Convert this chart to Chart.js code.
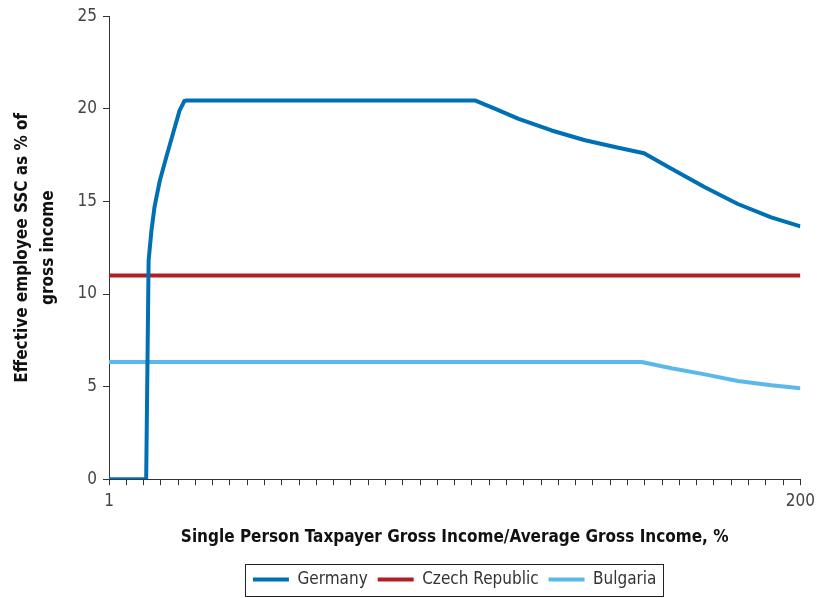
<!DOCTYPE html>
<html><head><meta charset="utf-8">
<script src="https://cdn.jsdelivr.net/npm/chart.js@4/dist/chart.umd.min.js"></script>
<style>html,body{margin:0;padding:0;background:#fff}#wrap{width:821px;height:598px}</style>
</head><body><div id="wrap"><canvas id="c" width="821" height="598"></canvas></div>
<script>
const seriesNames = ['Germany', 'Czech Republic', 'Bulgaria'];
const germanyX = [1, 11.7, 12.4, 13.2, 14.1, 15.6, 17.5, 19.4, 21.3, 22.7, 23.4, 106.3, 112.2, 118.9, 128.4, 138.0, 147.6, 155.0, 162.9, 172.5, 182.0, 191.6, 200];
const germanyY = [0, 0, 11.8, 13.4, 14.7, 16.1, 17.4, 18.65, 19.9, 20.42, 20.45, 20.45, 20.0, 19.46, 18.83, 18.3, 17.9, 17.6, 16.76, 15.76, 14.86, 14.14, 13.65];
const czechX = [1, 200];
const czechY = [11, 11];
const bulgariaX = [1, 154.3, 162.9, 172.5, 182.0, 191.6, 200];
const bulgariaY = [6.33, 6.33, 5.99, 5.66, 5.30, 5.07, 4.91];
const xTickLabels = ['1', '200'];
const yTicks = [0, 5, 10, 15, 20, 25];
const xMin = 1, xMax = 200, xTickIntervals = 40;

const FONT = "'Liberation Sans Narrow', 'DejaVu Sans Condensed', 'Roboto', sans-serif";
const colors = ['#0070B4', '#B51C24', '#5BB9EA'];
const toPts = (xs, ys) => xs.map((x, i) => ({x, y: ys[i]}));

const legendBox = {
  id: 'legendBox',
  afterDraw(chart) {
    const l = chart.legend; const ctx = chart.ctx;
    const hb = l.legendHitBoxes;
    if (!hb || !hb.length) return;
    const first = hb[0], last = hb[hb.length - 1];
    const x0 = first.left - 8, x1 = last.left + last.width + 6;
    const cy = first.top + first.height / 2;
    ctx.save(); ctx.strokeStyle = '#222'; ctx.lineWidth = 1;
    ctx.strokeRect(Math.round(x0) + 0.5, Math.round(cy - 16) + 0.5, Math.round(x1 - x0), 32);
    ctx.restore();
  }
};

new Chart(document.getElementById('c'), {
  type: 'line',
  data: {
    datasets: [
      {label: seriesNames[0], data: toPts(germanyX, germanyY), borderColor: colors[0], backgroundColor: colors[0]},
      {label: seriesNames[1], data: toPts(czechX, czechY), borderColor: colors[1], backgroundColor: colors[1]},
      {label: seriesNames[2], data: toPts(bulgariaX, bulgariaY), borderColor: colors[2], backgroundColor: colors[2]}
    ].map(d => Object.assign(d, {borderWidth: 4, pointRadius: 0, tension: 0, fill: false, borderJoinStyle: 'round'}))
  },
  options: {
    responsive: false, animation: false, devicePixelRatio: 1,
    layout: {padding: {left: 0, right: 15, top: 8, bottom: 0}},
    plugins: {
      tooltip: {enabled: false},
      legend: {
        position: 'bottom', fullSize: false,
        labels: {
          font: {family: FONT, size: 17}, color: '#333',
          boxWidth: 36, boxHeight: 4, padding: 10,
          generateLabels(chart) {
            const items = Chart.defaults.plugins.legend.labels.generateLabels(chart);
            items.forEach(i => { i.lineWidth = 0; i.strokeStyle = 'transparent'; });
            return items;
          }
        }
      }
    },
    scales: {
      x: {
        type: 'linear', min: xMin, max: xMax,
        afterBuildTicks(s) {
          const t = [];
          for (let i = 0; i <= xTickIntervals; i++) t.push({value: xMin + i * (xMax - xMin) / xTickIntervals});
          s.ticks = t;
        },
        ticks: {
          autoSkip: false, maxRotation: 0, font: {family: FONT, size: 17}, color: '#444', padding: 6,
          callback(v, i, arr) { if (i === 0) return xTickLabels[0]; if (i === arr.length - 1) return xTickLabels[1]; return ''; }
        },
        grid: {drawOnChartArea: false, drawTicks: true, tickLength: 6, color: '#333'},
        border: {color: '#333', width: 1},
        title: {display: true, text: 'Single Person Taxpayer Gross Income/Average Gross Income, %', font: {family: FONT, size: 17, weight: 'bold'}, color: '#111', padding: {top: 10, bottom: 13}}
      },
      y: {
        min: 0, max: 25,
        afterBuildTicks(s) { s.ticks = yTicks.map(v => ({value: v})); },
        afterFit(s) { s.width = 109; },
        ticks: {font: {family: FONT, size: 17}, color: '#444', padding: 6},
        grid: {drawOnChartArea: false, drawTicks: true, tickLength: 6, color: '#333'},
        border: {color: '#333', width: 1},
        title: {display: true, text: ['Effective employee SSC as % of', 'gross income'], font: {family: FONT, size: 17, weight: 'bold', lineHeight: 1.5}, color: '#111', padding: {top: 10, bottom: 4}}
      }
    }
  },
  plugins: [legendBox]
});
</script></body></html>
